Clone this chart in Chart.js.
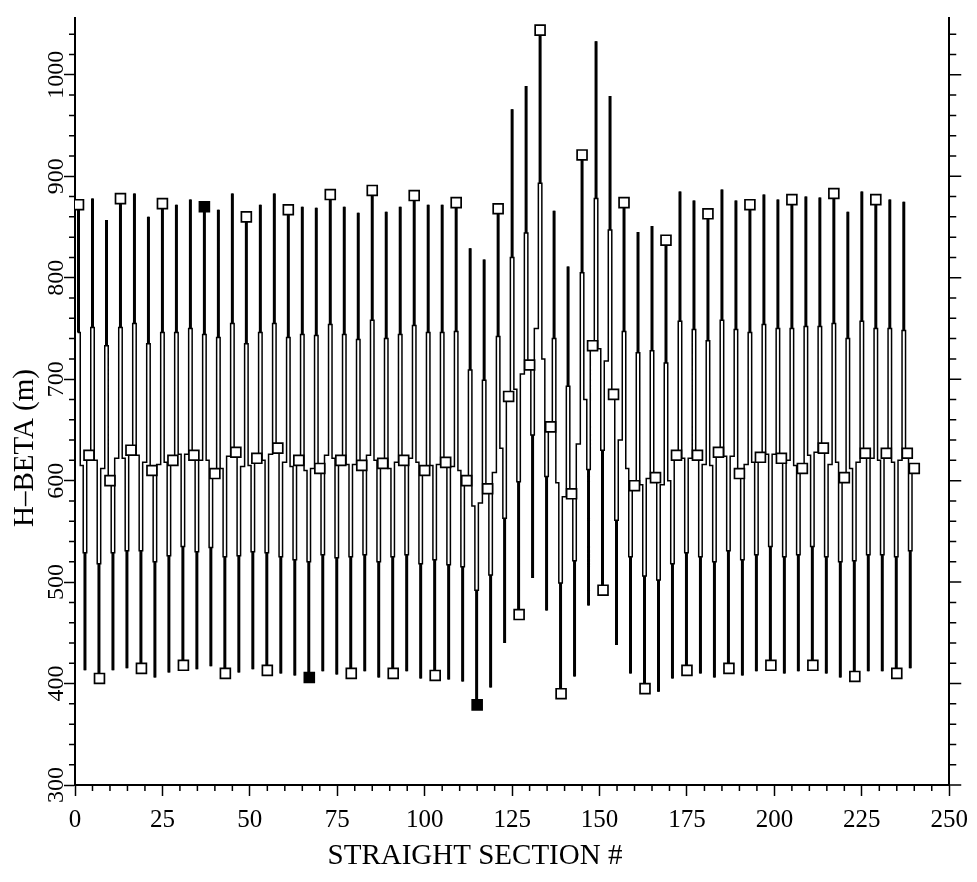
<!DOCTYPE html>
<html>
<head>
<meta charset="utf-8">
<script src="https://cdn.jsdelivr.net/npm/chart.js@4.4.1/dist/chart.umd.min.js"></script>
<style>
  html, body { margin: 0; padding: 0; background: #fff; }
  canvas { display: block; }
</style>
</head>
<body>
<canvas id="beta-canvas" width="977" height="882"></canvas>
<script>
// horizontal beta around the ring, one FODO cell every 4 straight sections

// beta at each focusing peak (cell k sits at section 1 + 4k)
const PEAK = [
  872, 878, 857, 878, 883, 860, 873, 872, 877, 870,
  867, 883, 860, 872, 883, 867, 870, 869, 882, 870,
  864, 886, 865, 870, 881, 872, 872, 874, 829, 818,
  868, 966, 989, 1044, 866, 811, 921, 1033, 979, 874,
  845, 851, 837, 885, 876, 863, 887, 876, 872, 882,
  877, 877, 880, 879, 883, 865, 885, 877, 877, 875,
];
// level where the peak spike opens up
const PEAK_SHOULDER = [
  746, 751, 733, 751, 755, 735, 746, 746, 750, 744,
  741, 755, 735, 746, 755, 741, 744, 743, 754, 744,
  739, 758, 740, 744, 753, 746, 746, 747, 709, 699,
  742, 820, 844, 893, 740, 693, 805, 878, 847, 747,
  726, 728, 716, 757, 749, 738, 758, 749, 746, 754,
  750, 750, 752, 752, 755, 740, 757, 750, 750, 748,
];
// beta at each defocusing minimum
const TROUGH = [
  413, 405, 413, 415, 415, 406, 411, 418, 414, 417,
  410, 411, 414, 413, 410, 408, 406, 412, 409, 410,
  412, 406, 410, 412, 405, 408, 404, 402, 379, 396,
  440, 468, 504, 472, 390, 407, 477, 492, 438, 410,
  395, 392, 405, 413, 410, 406, 415, 408, 412, 418,
  410, 412, 418, 410, 406, 407, 412, 412, 410, 415,
];
const TROUGH_SHOULDER = [
  529, 518, 529, 531, 531, 520, 526, 535, 530, 534,
  525, 526, 530, 529, 525, 522, 520, 527, 524, 525,
  527, 520, 525, 527, 518, 522, 517, 515, 492, 507,
  563, 599, 645, 604, 499, 521, 611, 630, 561, 525,
  506, 502, 518, 529, 525, 520, 531, 522, 527, 535,
  525, 527, 535, 525, 520, 521, 527, 527, 525, 531,
];
// middle step on the way down (peak k -> trough k) and up (trough k -> peak k+1)
const MID_DOWN = [
  615, 620, 600, 622, 625, 610, 618, 626, 625, 620,
  612, 628, 615, 620, 632, 614, 610, 612, 622, 616,
  615, 620, 612, 620, 618, 615, 618, 610, 575, 592,
  632, 690, 714, 720, 598, 587, 680, 730, 685, 612,
  596, 603, 600, 622, 625, 615, 624, 607, 618, 626,
  622, 615, 625, 632, 618, 612, 627, 620, 618, 627,
];
const MID_UP = [
  625, 612, 622, 630, 618, 616, 620, 626, 620, 607,
  624, 614, 622, 626, 618, 620, 612, 625, 620, 616,
  625, 617, 618, 622, 610, 616, 614, 600, 578, 608,
  683, 705, 750, 653, 584, 636, 733, 718, 640, 595,
  602, 596, 625, 622, 616, 628, 624, 616, 623, 626,
  620, 612, 628, 616, 603, 618, 622, 627, 620, 612,
];
// beta printed at every third straight section (1, 4, 7 ... 238, then 240)
const SECTION_BETA = [
  872, 625, 405, 600, 878, 630, 415, 610, 873, 620, 418, 625,
  870, 607, 410, 628, 860, 622, 413, 632, 867, 620, 406, 612,
  882, 620, 410, 615, 886, 617, 410, 620, 881, 610, 408, 618,
  874, 600, 379, 592, 868, 683, 468, 714, 1044, 653, 390, 587,
  921, 733, 492, 685, 874, 595, 395, 603, 837, 625, 413, 625,
  863, 628, 415, 607, 872, 623, 418, 622, 877, 612, 418, 632,
  883, 603, 407, 627, 877, 627, 410, 627, 612,
];
const FILLED_SECTIONS = [37, 67, 115];
const X_TICKS = [0, 25, 50, 75, 100, 125, 150, 175, 200, 225, 250];
const Y_TICKS = [300, 400, 500, 600, 700, 800, 900, 1000];

// lattice geometry in section units
const CELL_START = 1;
const CELL_LENGTH = 4;
const TROUGH_OFFSET = 1.85;
const JOG = 0.5;
const SECTION_STEP = 3;
const LAST_SECTION = 240;

const Y_MIN = 300;
const Y_MAX = 1056;
const FONT = "'Liberation Serif', 'Times New Roman', serif";

const buildPath = () => {
  const path = [];
  const spikes = [];
  const last = PEAK.length - 1;
  PEAK.forEach((peak, k) => {
    const xp = CELL_START + CELL_LENGTH * k;
    const xt = xp + TROUGH_OFFSET;
    const hi = PEAK_SHOULDER[k];
    const lo = TROUGH_SHOULDER[k];
    path.push(
      { x: xp, y: peak },
      { x: xp, y: hi },
      { x: xp + JOG, y: hi },
      { x: xp + JOG, y: MID_DOWN[k] },
      { x: xt - JOG, y: MID_DOWN[k] },
      { x: xt - JOG, y: lo },
      { x: xt, y: lo },
      { x: xt, y: TROUGH[k] },
      { x: xt, y: lo },
      { x: xt + JOG, y: lo },
      { x: xt + JOG, y: MID_UP[k] }
    );
    if (k < last) {
      const xn = xp + CELL_LENGTH;
      path.push(
        { x: xn - JOG, y: MID_UP[k] },
        { x: xn - JOG, y: PEAK_SHOULDER[k + 1] },
        { x: xn, y: PEAK_SHOULDER[k + 1] }
      );
    } else {
      path.push({ x: LAST_SECTION, y: MID_UP[k] });
    }
    spikes.push({ x: xp, y: hi }, { x: xp, y: peak }, { x: xp, y: null });
    spikes.push({ x: xt, y: lo }, { x: xt, y: TROUGH[k] }, { x: xt, y: null });
  });
  return { path, spikes };
};

const sectionPoints = SECTION_BETA.map((y, j) => ({
  x: Math.min(CELL_START + SECTION_STEP * j, LAST_SECTION),
  y: y,
}));

// minor ticks, outward ticks on the right-hand frame, and the axis titles
const frameDecor = {
  id: "frameDecor",
  afterDraw(chart) {
    const { ctx, chartArea: a, scales } = chart;
    const x = scales.x;
    const y = scales.y;
    ctx.save();
    ctx.strokeStyle = "#000";
    ctx.lineWidth = 1.5;
    ctx.beginPath();
    for (let v = 0; v <= 250; v += 5) {
      if (X_TICKS.includes(v)) continue;
      const px = x.getPixelForValue(v);
      ctx.moveTo(px, a.bottom);
      ctx.lineTo(px, a.bottom + 6);
    }
    for (let v = Y_MIN; v <= Y_MAX; v += 20) {
      const py = y.getPixelForValue(v);
      const major = Y_TICKS.includes(v);
      if (!major) {
        ctx.moveTo(a.left - 6, py);
        ctx.lineTo(a.left, py);
      }
      ctx.moveTo(a.right, py);
      ctx.lineTo(a.right + (major ? 12 : 7), py);
    }
    ctx.stroke();

    ctx.fillStyle = "#000";
    ctx.font = "29px " + FONT;
    ctx.textAlign = "center";
    ctx.textBaseline = "middle";
    ctx.fillText("STRAIGHT SECTION #", 475, 856);
    ctx.translate(25, 448);
    ctx.rotate(-Math.PI / 2);
    ctx.fillText("H\u2013BETA (m)", 0, 0);
    ctx.restore();
  },
};

const { path, spikes } = buildPath();

new Chart(document.getElementById("beta-canvas"), {
  type: "line",
  data: {
    datasets: [
      {
        label: "sections",
        data: sectionPoints,
        showLine: false,
        pointStyle: "rect",
        pointRadius: 7,
        pointBorderWidth: 1.7,
        pointBorderColor: "#000",
        pointBackgroundColor: sectionPoints.map(({ x }) =>
          FILLED_SECTIONS.includes(x) ? "#000" : "#fff"
        ),
      },
      {
        label: "spikes",
        data: spikes,
        borderColor: "#000",
        borderWidth: 3,
        pointRadius: 0,
        spanGaps: false,
      },
      {
        label: "beta",
        data: path,
        borderColor: "#000",
        borderWidth: 1.5,
        pointRadius: 0,
        tension: 0,
      },
    ],
  },
  options: {
    responsive: false,
    animation: false,
    devicePixelRatio: 1,
    events: [],
    layout: { padding: { top: 18, left: 0, right: 0, bottom: 0 } },
    plugins: {
      legend: { display: false },
      tooltip: { enabled: false },
    },
    scales: {
      x: {
        type: "linear",
        min: 0,
        max: 250,
        position: "bottom",
        border: { color: "#000", width: 2 },
        grid: { drawOnChartArea: false, tickLength: 11, tickColor: "#000", tickWidth: 1.5 },
        afterBuildTicks: (s) => {
          s.ticks = X_TICKS.map((value) => ({ value }));
        },
        ticks: {
          color: "#000",
          padding: 9,
          maxRotation: 0,
          autoSkip: false,
          callback: (v) => String(v),
          font: { family: FONT, size: 25 },
        },
        afterFit: (s) => {
          s.height = 97;
        },
      },
      y: {
        type: "linear",
        min: Y_MIN,
        max: Y_MAX,
        position: "left",
        border: { color: "#000", width: 2 },
        grid: { drawOnChartArea: false, tickLength: 11, tickColor: "#000", tickWidth: 1.5 },
        afterBuildTicks: (s) => {
          s.ticks = Y_TICKS.map((value) => ({ value }));
        },
        ticks: {
          color: "#000",
          minRotation: 90,
          maxRotation: 90,
          crossAlign: "center",
          padding: -17,
          callback: (v) => String(v),
          font: { family: FONT, size: 24 },
        },
        afterFit: (s) => {
          s.width = 75;
        },
      },
      y2: {
        type: "linear",
        min: Y_MIN,
        max: Y_MAX,
        position: "right",
        border: { color: "#000", width: 2 },
        grid: { display: false },
        ticks: { display: false },
        afterFit: (s) => {
          s.width = 22;
        },
      },
    },
  },
  plugins: [frameDecor],
});
</script>
</body>
</html>
